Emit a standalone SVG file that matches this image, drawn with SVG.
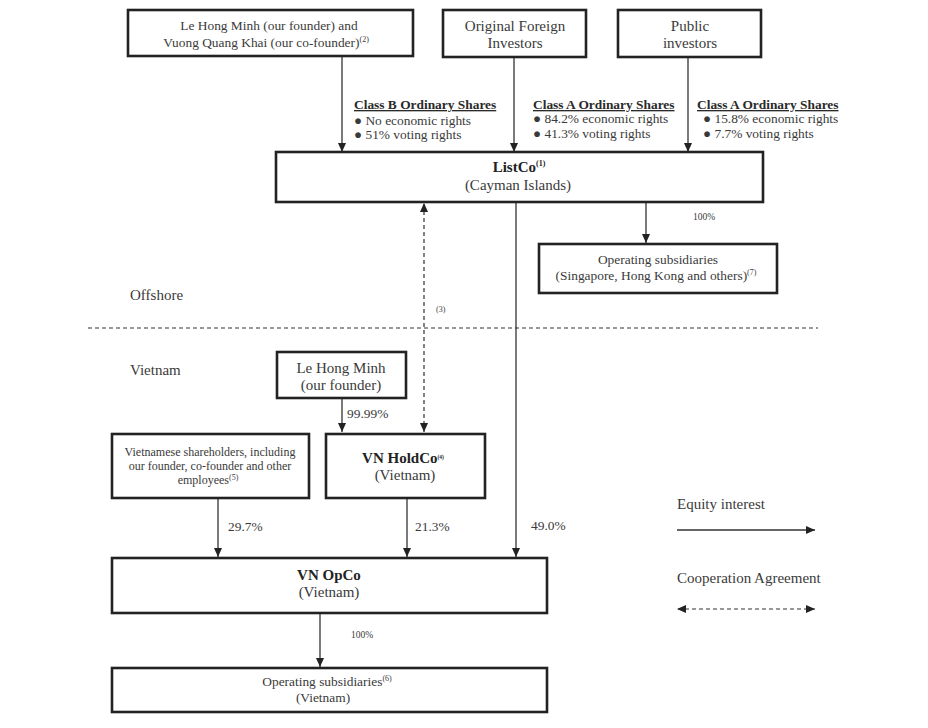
<svg xmlns="http://www.w3.org/2000/svg" width="928" height="728" viewBox="0 0 928 728">
<style>
.box{fill:#fff;stroke:#222;stroke-width:2.6}
text{font-family:"Liberation Serif","Times New Roman",serif;fill:#3a3a3a;font-size:15px}
.c{text-anchor:middle}
.b{font-weight:bold;fill:#222}
.u{font-weight:bold;text-decoration:underline;fill:#2a2a2a;font-size:13.4px}
.m{font-size:13.4px}
.s{font-size:8px}
.p{font-size:9.5px}
.sm{font-size:12px}
.ln{stroke:#333;stroke-width:1.3;fill:none}
.dl{stroke:#333;stroke-width:1.2;fill:none;stroke-dasharray:4 3}
</style>
<defs>
<marker id="ah" markerWidth="10" markerHeight="10" refX="9" refY="5" orient="auto" markerUnits="userSpaceOnUse">
<path d="M0,1 L9,5 L0,9 Z" fill="#222"/>
</marker>
<marker id="ahs" markerWidth="10" markerHeight="10" refX="1" refY="5" orient="auto" markerUnits="userSpaceOnUse">
<path d="M9,1 L0,5 L9,9 Z" fill="#222"/>
</marker>
</defs>
<rect width="928" height="728" fill="#fff"/>

<g id="connectors">
<line class="ln" x1="342" y1="56" x2="342" y2="152" marker-end="url(#ah)"/>
<line class="ln" x1="514" y1="57" x2="514" y2="152" marker-end="url(#ah)"/>
<line class="ln" x1="688" y1="57" x2="688" y2="152" marker-end="url(#ah)"/>
<line class="ln" x1="646" y1="202" x2="646" y2="243" marker-end="url(#ah)"/>
<line class="dl" x1="424" y1="204" x2="424" y2="432" marker-start="url(#ahs)" marker-end="url(#ah)"/>
<line class="ln" x1="516" y1="202" x2="516" y2="557" marker-end="url(#ah)"/>
<line class="ln" x1="342" y1="398" x2="342" y2="432" marker-end="url(#ah)"/>
<line class="ln" x1="218" y1="498" x2="218" y2="557" marker-end="url(#ah)"/>
<line class="ln" x1="407" y1="498" x2="407" y2="557" marker-end="url(#ah)"/>
<line class="ln" x1="320" y1="613" x2="320" y2="667" marker-end="url(#ah)"/>
<line class="dl" x1="88" y1="328" x2="818" y2="328" stroke-dasharray="3 2"/>
<line class="ln" x1="677" y1="530" x2="815" y2="530" marker-end="url(#ah)"/>
<line class="dl" x1="678" y1="609" x2="815" y2="609" marker-start="url(#ahs)" marker-end="url(#ah)"/>
</g>

<g id="labels">
<text class="u" x="354" y="109">Class B Ordinary Shares</text>
<text class="m" x="354" y="125">● No economic rights</text>
<text class="m" x="354" y="139">● 51% voting rights</text>
<text class="u" x="533" y="109">Class A Ordinary Shares</text>
<text class="m" x="533" y="123">● 84.2% economic rights</text>
<text class="m" x="533" y="138">● 41.3% voting rights</text>
<text class="u" x="697" y="109">Class A Ordinary Shares</text>
<text class="m" x="703" y="123">● 15.8% economic rights</text>
<text class="m" x="703" y="138">● 7.7% voting rights</text>
<text class="p" x="693" y="220">100%</text>
<text class="s" x="436" y="312">(3)</text>
<text x="130" y="300">Offshore</text>
<text x="130" y="375">Vietnam</text>
<text class="m" x="347" y="418">99.99%</text>
<text class="m" x="228" y="531">29.7%</text>
<text class="m" x="415" y="531">21.3%</text>
<text class="m" x="531" y="530">49.0%</text>
<text class="p" x="351" y="638">100%</text>
<text x="677" y="509">Equity interest</text>
<text x="677" y="583">Cooperation Agreement</text>
</g>

<g id="founders">
<rect class="box" x="128" y="10" width="285" height="46"/>
<text class="c m" x="269" y="30">Le Hong Minh (our founder) and</text>
<text class="c m" x="266" y="47">Vuong Quang Khai (our co-founder)<tspan class="s" dy="-5">(2)</tspan></text>
</g>

<g id="foreign">
<rect class="box" x="443" y="10" width="143" height="47"/>
<text class="c" x="515" y="31">Original Foreign</text>
<text class="c" x="515" y="48">Investors</text>
</g>

<g id="public">
<rect class="box" x="618" y="10" width="143" height="47"/>
<text class="c" x="690" y="31">Public</text>
<text class="c" x="690" y="48">investors</text>
</g>

<g id="listco">
<rect class="box" x="276" y="152" width="487" height="50"/>
<text class="c b" x="519" y="172">ListCo<tspan class="s" dy="-6">(1)</tspan></text>
<text class="c" x="518" y="190">(Cayman Islands)</text>
</g>

<g id="opsub-offshore">
<rect class="box" x="539" y="244" width="238" height="49"/>
<text class="c m" x="658" y="264">Operating subsidiaries</text>
<text class="c m" x="656" y="280">(Singapore, Hong Kong and others)<tspan class="s" dy="-5">(7)</tspan></text>
</g>

<g id="founder-vn">
<rect class="box" x="277" y="352" width="129" height="46"/>
<text class="c" x="341" y="373">Le Hong Minh</text>
<text class="c" x="341" y="390">(our founder)</text>
</g>

<g id="vn-shareholders">
<rect class="box" x="112" y="434" width="197" height="64"/>
<text class="c sm" x="210" y="456">Vietnamese shareholders, including</text>
<text class="c sm" x="210" y="470">our founder, co-founder and other</text>
<text class="c sm" x="208" y="484">employees<tspan class="s" dy="-4" font-size="6.5">(5)</tspan></text>
</g>

<g id="vn-holdco">
<rect class="box" x="326" y="434" width="159" height="64"/>
<text class="c b" x="403" y="463">VN HoldCo<tspan dy="-4" font-size="5.5">(4)</tspan></text>
<text class="c" x="405" y="480">(Vietnam)</text>
</g>

<g id="vn-opco">
<rect class="box" x="112" y="558" width="435" height="55"/>
<text class="c b" x="329" y="580">VN OpCo</text>
<text class="c" x="329" y="597">(Vietnam)</text>
</g>

<g id="opsub-vn">
<rect class="box" x="112" y="668" width="435" height="44"/>
<text class="c m" x="327" y="686">Operating subsidiaries<tspan class="s" dy="-5">(6)</tspan></text>
<text class="c m" x="323" y="702">(Vietnam)</text>
</g>
</svg>
